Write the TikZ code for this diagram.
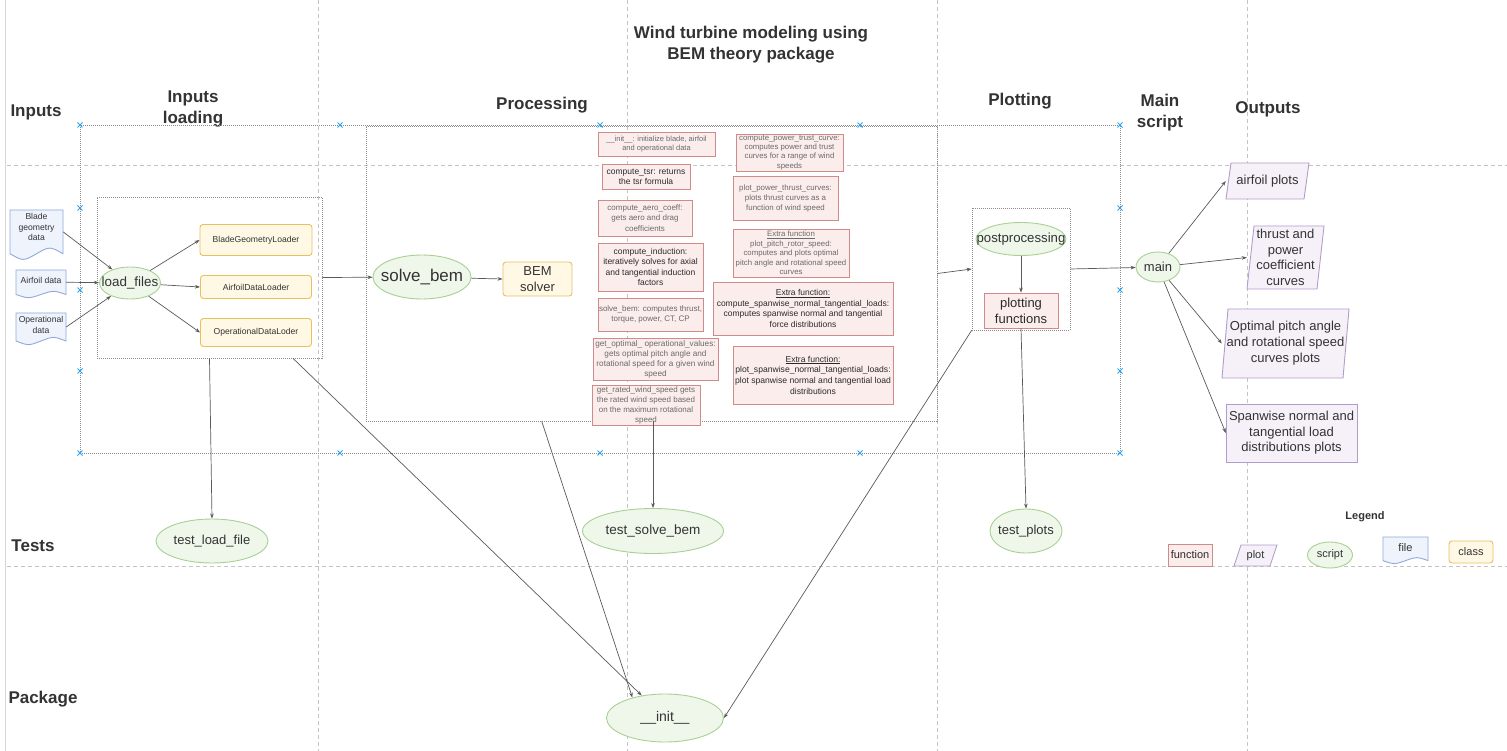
\documentclass[tikz,border=0pt]{standalone}
\usepackage{fontspec}
\setmainfont{Liberation Sans}
\usetikzlibrary{shapes.geometric,arrows.meta,calc}
\definecolor{txt}{HTML}{333333}
\definecolor{ftxtL}{HTML}{6A6A6A}
\definecolor{ftxtD}{HTML}{2A2A2A}
\definecolor{funcd}{HTML}{D08A8A}
\definecolor{funcf}{HTML}{FCEDED}
\definecolor{classd}{HTML}{E8C060}
\definecolor{classf}{HTML}{FFF8E5}
\definecolor{scrd}{HTML}{A9D094}
\definecolor{scrf}{HTML}{EFF7EB}
\definecolor{filed}{HTML}{8FAADC}
\definecolor{filef}{HTML}{EEF3FC}
\definecolor{plotd}{HTML}{B39CCB}
\definecolor{plotf}{HTML}{F6F1F9}
\definecolor{gridc}{HTML}{C4C4C4}
\definecolor{boxc}{HTML}{8C8C8C}
\definecolor{xmark}{HTML}{2FA4F2}
\definecolor{arrc}{HTML}{5A5A5A}
\newcommand\fsz[2]{\fontsize{#1}{#2}\selectfont}
\tikzset{
  hdr/.style={font=\fsz{17}{21}\bfseries, text=txt, align=center, inner sep=0pt},
  arr/.style={draw=arrc, line width=0.7pt, -{Stealth[length=5pt,width=3.6pt]}},
  func/.style={draw=funcd, fill=funcf, line width=0.9pt, align=center, inner sep=0.5pt},
  fl/.style={text=ftxtL},
  fd/.style={text=ftxtD},
  cls/.style={draw=classd, fill=classf, line width=0.9pt, rounded corners=3pt, align=center, text=txt, inner sep=1pt},
  scr/.style={ellipse, draw=scrd, fill=scrf, line width=0.9pt, inner sep=0pt},
  sz/.style 2 args={minimum width=#1pt, minimum height=#2pt},
  gridln/.style={draw=gridc, line width=0.8pt, dash pattern=on 4pt off 3pt},
  dbox/.style={draw=boxc, line width=0.7pt, dash pattern=on 1pt off 1pt, inner sep=0pt},
  xm/.style={draw=xmark, line width=0.8pt},
  hid/.style={inner sep=0pt, align=center, text=txt},
  filesty/.style={draw=filed, fill=filef, line width=0.9pt},
  plotsty/.style={draw=plotd, fill=plotf, line width=0.9pt},
}
\newcommand\scriptnode[7]{%
  \node[scr, sz={#4}{#5}] (#1) at (#2,#3) {};
  \node[hid, font=\fsz{#6}{#6}] (#1-t) at (#1.center) {#7};}
\newcommand\docnode[8]{% name x1 y1 x2 y2 texty font text
  \pgfmathsetmacro\dcD{(#5-#3)*0.25}%
  \pgfmathsetmacro\dcM{(#2+#4)/2}%
  \pgfmathsetmacro\dcA{#2+0.75*(#4-#2)}%
  \pgfmathsetmacro\dcB{#2+0.25*(#4-#2)}%
  \pgfmathsetmacro\dcW{#4-#2}%
  \pgfmathsetmacro\dcH{#5-#3-\dcD}%
  \pgfmathsetmacro\dcC{(#3+#5-\dcD/2)/2}%
  \pgfmathsetmacro\dcE{#5-\dcD/2}%
  \pgfmathsetmacro\dcF{#5-1.1*\dcD}%
  \pgfmathsetmacro\dcG{#5+0.1*\dcD}%
  \filldraw[filesty] (#2,#3) -- (#4,#3) -- (#4,\dcE) .. controls (\dcA,\dcF) .. (\dcM,\dcE) .. controls (\dcB,\dcG) .. (#2,\dcE) -- cycle;
  \node[inner sep=0pt, sz={\dcW}{\dcH}] (#1) at (\dcM,\dcC) {};
  \node[hid, font=#7] (#1-t) at (\dcM,#6) {#8};}
\newcommand\plotnode[8]{% name x1 y1 x2 y2 slant font text
  \pgfmathsetmacro\pnA{#2+#6}\pgfmathsetmacro\pnB{#4-#6}%
  \pgfmathsetmacro\pnW{#4-#2}\pgfmathsetmacro\pnH{#5-#3}%
  \pgfmathsetmacro\pnX{(#2+#4)/2}\pgfmathsetmacro\pnY{(#3+#5)/2}%
  \filldraw[plotsty] (\pnA,#3) -- (#4,#3) -- (\pnB,#5) -- (#2,#5) -- cycle;
  \node[inner sep=0pt, sz={\pnW}{\pnH}] (#1) at (\pnX,\pnY) {};
  \node[hid, font=#7] (#1-t) at (\pnX,\pnY) {#8};}
\begin{document}
\begin{tikzpicture}[x=1pt,y=-1pt]
\useasboundingbox (0,0) rectangle (1507,751);
\fill[white] (0,0) rectangle (1507,751);
% swimlane grid
\draw[draw=gridc!70, line width=0.6pt] (5,0) -- (5,751);
\foreach \gx in {318,627,937,1247} {\draw[gridln] (\gx,0) -- (\gx,751);}
\foreach \gy in {165,566} {\draw[gridln] (7,\gy) -- (1507,\gy);}
% headers
\node[hdr] (hInputs) at (36,112) {Inputs};
\node[hdr] (hLoad) at (193,108.5) {Inputs\\loading};
\node[hdr] (hProc) at (542,105) {Processing};
\node[hdr] (title) at (751,44.5) {Wind turbine modeling using\\BEM theory package};
\node[hdr] (hPlot) at (1020,101) {Plotting};
\node[hdr] (hMain) at (1160,112.5) {Main\\script};
\node[hdr] (hOut) at (1268,109) {Outputs};
\node[hdr] (hTests) at (33,546) {Tests};
\node[hdr] (hPkg) at (43,699) {Package};
\node[font=\fsz{11}{13}\bfseries, text=txt, inner sep=0pt] (hLeg) at (1365,517) {Legend};
% dotted containers
\node[dbox, sz={1040}{328}] (boxAll) at (600,289) {};
\node[dbox, sz={225}{161}] (boxIn) at (209.5,277.5) {};
\node[dbox, sz={571}{295}] (boxProc) at (651.5,273.5) {};
\node[dbox, sz={98}{122}] (boxPlot) at (1021,269) {};
\foreach \mx/\my in {80/125,340/125,600/125,860/125,1120/125,80/453,340/453,600/453,860/453,1120/453,80/208,80/290,80/371,1120/208,1120/290,1120/371}
  {\draw[xm] (\mx-2.5,\my-2.5) -- (\mx+2.5,\my+2.5) (\mx-2.5,\my+2.5) -- (\mx+2.5,\my-2.5);}
% input files
\docnode{fBlade}{10}{210}{63}{260}{227}{\fsz{8.6}{10.5}}{Blade\\geometry\\data}
\docnode{fAirfoil}{16}{270}{66}{298}{280.5}{\fsz{8.6}{10.5}}{Airfoil data}
\docnode{fOper}{16}{313}{66}{345}{325}{\fsz{8.6}{10.5}}{Operational\\data}
% inputs loading
\scriptnode{loadf}{130}{283}{61}{32}{13.4}{load\_files}
\node[cls, sz={112}{31}, font=\fsz{8.6}{10}] (cBlade) at (256,240) {BladeGeometryLoader};
\node[cls, sz={111}{23}, font=\fsz{8.6}{10}] (cAirfoil) at (256,287) {AirfoilDataLoader};
\node[cls, sz={111}{28}, font=\fsz{8.6}{10}] (cOper) at (256,332.5) {OperationalDataLoder};
% processing
\scriptnode{solveb}{422}{277}{98}{44}{17}{solve\_bem}
\node[cls, sz={69}{34}, font=\fsz{13}{16}] (cBEM) at (537.5,279) {BEM\\solver};
\node[func, fl, sz={117}{24}, font=\fsz{7.5}{9}] (fInit) at (656.5,144) {\_\_init\_\_: initialize blade, airfoil\\and operational data};
\node[func, fd, sz={88}{25}, font=\fsz{8.5}{10}] (fTsr) at (646,176.5) {compute\_tsr: returns\\the tsr formula};
\node[func, fl, sz={94}{36}, font=\fsz{8}{10.3}] (fAero) at (645,218) {compute\_aero\_coeff:\\gets aero and drag\\coefficients};
\node[func, fd, sz={105}{48}, font=\fsz{8.5}{10.5}] (fInd) at (650.5,267) {compute\_induction:\\iteratively solves for axial\\and tangential induction\\factors};
\node[func, fl, sz={105}{33}, font=\fsz{8}{10}] (fSolve) at (650.5,314.5) {solve\_bem: computes thrust,\\torque, power,  CT, CP};
\node[func, fl, sz={125}{42}, font=\fsz{8.2}{10}] (fOpt) at (655.5,359) {get\_optimal\_ operational\_values:\\gets optimal pitch angle and\\rotational speed for a given wind\\speed};
\node[func, fl, sz={108}{40}, font=\fsz{8}{10}] (fRated) at (646,405) {get\_rated\_wind\_speed gets\\the rated wind speed based\\on the maximum rotational\\speed};
\node[func, fl, sz={107}{37}, font=\fsz{7.8}{9.3}] (fPower) at (789.5,152.5) {compute\_power\_trust\_curve:\\computes power and trust\\curves for a range of wind\\speeds};
\node[func, fl, sz={105}{44}, font=\fsz{7.9}{10}] (fPlotPow) at (785.5,198) {plot\_power\_thrust\_curves:\\plots thrust curves as a\\function of wind speed};
\node[func, fl, sz={116}{48}, font=\fsz{7.8}{9.4}] (fPitch) at (791,253) {\underline{Extra function}\\plot\_pitch\_rotor\_speed:\\computes and plots optimal\\pitch angle and rotational speed\\curves};
\node[func, fd, sz={180}{53}, font=\fsz{8.5}{10.5}] (fSpanC) at (803,308.5) {\underline{Extra function:}\\compute\_spanwise\_normal\_tangential\_loads:\\computes spanwise normal and tangential\\force distributions};
\node[func, fd, sz={160}{58}, font=\fsz{8.6}{10.7}] (fSpanP) at (813,375) {\underline{Extra function:}\\plot\_spanwise\_normal\_tangential\_loads:\\plot spanwise normal and tangential load\\distributions};
% plotting
\scriptnode{postp}{1021}{239}{90}{33}{13.2}{postprocessing}
\node[func, fd, sz={74}{35}, font=\fsz{13}{16}] (plotFn) at (1021,310.5) {plotting\\functions};
% main and outputs
\scriptnode{mainS}{1158}{267}{44}{30}{13}{main}
\plotnode{pAirfoil}{1226}{163}{1309}{199}{5}{\fsz{13}{15.5}}{airfoil plots}
\plotnode{pThrust}{1247}{226}{1324}{289}{7}{\fsz{13}{15.5}}{thrust and\\power\\coefficient\\curves}
\plotnode{pOpt}{1222}{309}{1349}{378}{6}{\fsz{13}{16}}{Optimal pitch angle\\and rotational speed\\curves plots}
\plotnode{pSpan}{1226}{404}{1357}{462}{0}{\fsz{13}{15.5}}{Spanwise normal and\\tangential load\\distributions plots}
% tests and package
\scriptnode{tLoad}{212}{541}{112}{44}{13}{test\_load\_file}
\scriptnode{tSolve}{653}{531}{141}{45}{13.5}{test\_solve\_bem}
\scriptnode{tPlots}{1026}{531}{72}{44}{13}{test\_plots}
\scriptnode{initP}{665}{718}{117}{48}{14}{\_\_init\_\_}
% legend
\node[func, fd, sz={44}{22}, font=\fsz{11}{13}] (lgFunc) at (1190,555) {function};
\plotnode{lgPlot}{1234}{545}{1277}{566}{7}{\fsz{11}{13}}{plot}
\scriptnode{lgScript}{1330}{555}{45}{26}{11}{script}
\docnode{lgFile}{1383}{537}{1428}{564}{548}{\fsz{11}{13}}{file}
\node[cls, sz={44}{22}, font=\fsz{11}{13}] (lgClass) at (1471,552) {class};
% connectors
\draw[arr] (fBlade.east) -- (loadf);
\draw[arr] (fAirfoil.east) -- (loadf);
\draw[arr] (fOper.east) -- (loadf);
\draw[arr] (loadf) -- (cBlade.west);
\draw[arr] (loadf) -- (cAirfoil.west);
\draw[arr] (loadf) -- (cOper.west);
\draw[arr] (boxIn.east) -- (solveb);
\draw[arr] (solveb) -- (cBEM.west);
\draw[arr] (boxProc.east) -- (boxPlot.west);
\draw[arr] (postp) -- (plotFn.north);
\draw[arr] (boxPlot.east) -- (mainS);
\draw[arr] (mainS) -- (pAirfoil.west);
\draw[arr] (mainS) -- (pThrust.west);
\draw[arr] (mainS) -- (pOpt.west);
\draw[arr] (mainS) -- (pSpan.west);
\draw[arr] (boxIn.south) -- (tLoad.north);
\draw[arr] ($(boxIn.south west)!0.87!(boxIn.south east)$) -- (initP.136);
\draw[arr] ($(boxProc.south west)!0.308!(boxProc.south east)$) -- (initP.148);
\draw[arr] (boxProc.south -| tSolve.north) -- (tSolve.north);
\draw[arr] (plotFn.south) -- (tPlots.north);
\draw[arr] (boxPlot.south west) -- (initP.east);
\end{tikzpicture}
\end{document}
